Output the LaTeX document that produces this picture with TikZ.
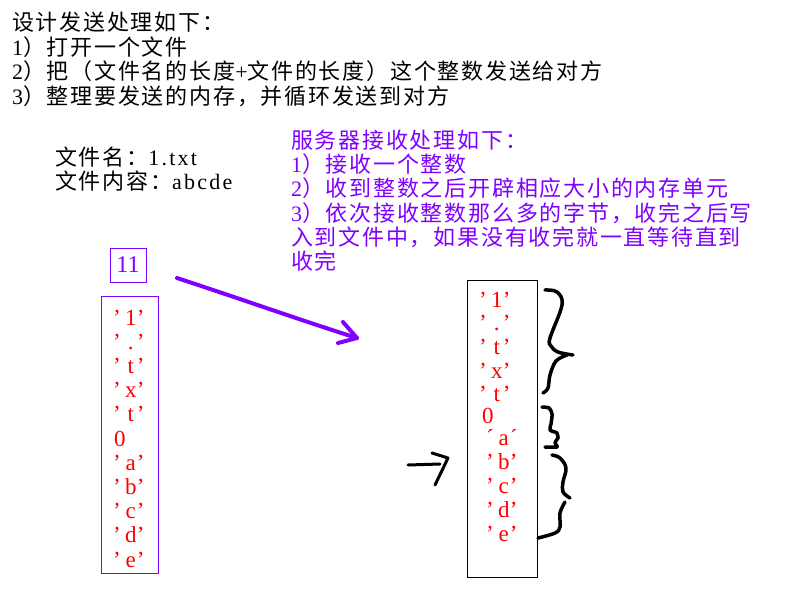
\documentclass[tikz,border=0pt]{standalone}
\usepackage{fontspec}
\setmainfont{Liberation Serif}
\newfontfamily\cjk[LetterSpace=8]{Noto Sans CJK SC}
\newfontfamily\halfw[LetterSpace=10]{Liberation Serif}
\usetikzlibrary{arrows.meta}

\definecolor{violetline}{RGB}{128,0,255}
\definecolor{bytered}{RGB}{255,0,0}

% one byte of the buffer, shown as 'c'
\newcommand\quoted[1]{’\hspace{4pt}\makebox[12pt]{#1}’}
\newcommand\dg[1]{{\halfw #1}}

\tikzset{
  cjkline/.style={font=\cjk\fontsize{22}{24}\selectfont, anchor=base west, inner sep=0pt},
  byte/.style={font=\fontsize{23}{25}\selectfont, text=bytered, anchor=base west, inner sep=0pt},
  handline/.style={line width=3.5pt, line cap=round, line join=round},
}

\begin{document}
\begin{tikzpicture}[x=1pt, y=-1pt]
  \useasboundingbox (0,0) rectangle (800,595);

  % Sender steps
  \foreach \i/\row in {
    0/设计发送处理如下：,
    1/\dg{1}）打开一个文件,
    2/\dg{2}）把（文件名的长度\dg{+}文件的长度）这个整数发送给对方,
    3/\dg{3}）整理要发送的内存，并循环发送到对方
  } {
    \node[cjkline] (send\i) at (12, 30.5+24.5*\i) {\row};
  }

  % Receiver steps
  \foreach \i/\row in {
    0/服务器接收处理如下：,
    1/\dg{1}）接收一个整数,
    2/\dg{2}）收到整数之后开辟相应大小的内存单元,
    3/\dg{3}）依次接收整数那么多的字节，收完之后写,
    4/入到文件中，如果没有收完就一直等待直到,
    5/收完
  } {
    \node[cjkline, text=violetline] (recv\i) at (291, 148.5+24.2*\i) {\row};
  }

  % File
  \node[cjkline] (fname) at (55, 165) {文件名：\dg{1.txt}};
  \node[cjkline] (fbody) at (55, 189) {文件内容：\dg{abcde}};

  % Length and send buffer
  \node[draw=violetline, line width=1pt, text=violetline, font=\fontsize{24}{26}\selectfont,
        minimum width=36pt, minimum height=34pt, inner sep=0pt] (len) at (128, 265) {11};
  \node[draw=violetline, line width=1pt, minimum width=57pt, minimum height=277pt] (sendbuf) at (129.5, 434.5) {};
  \foreach \i/\c in {0/1, 1/., 2/t, 3/x, 4/t, 6/a, 7/b, 8/c, 9/d, 10/e}
    \node[byte] (sb\i) at (113, 325+24.2*\i) {\quoted{\c}};
  \node[byte] (sb5) at (114, 446) {0};

  % Receive buffer
  \node[draw, line width=1pt, minimum width=70pt, minimum height=297pt] (recvbuf) at (502, 428.5) {};
  \foreach \i/\c in {0/1, 1/., 2/t, 3/x, 4/t}
    \node[byte] (rb\i) at (479, 307+23.7*\i) {\quoted{\c}};
  \node[byte] (rb5) at (482, 423) {0};
  \node[byte] (rb6) at (486, 445) {´\hspace{4pt}\makebox[12pt]{a}´};
  \foreach \i/\c in {7/b, 8/c, 9/d, 10/e}
    \node[byte] (rb\i) at (486, 445+24.2*\i-145.2) {\quoted{\c}};

  % Hand drawn arrows
  \coordinate (sendfrom) at (177, 278);
  \coordinate (sendto) at (357, 338);
  \draw[handline, violetline, line width=4pt] (sendfrom) .. controls (250, 302) and (300, 320) .. (sendto);
  \draw[handline, violetline, line width=4pt] (343, 322) -- (sendto) -- (338, 343);

  \coordinate (markfrom) at (408, 465);
  \coordinate (marktip) at (448, 458);
  \draw[handline, line width=3pt] (markfrom) -- (440, 464);
  \draw[handline, line width=3pt] (432, 453) -- (marktip) -- (435, 485);

  % Braces
  \draw[handline] plot[smooth, tension=0.6] coordinates {(545,290) (557,292) (562,305) (550,338) (551,346) (558,352) (573,355)};
  \draw[handline] plot[smooth, tension=0.6] coordinates {(567,355) (556,361) (550,375) (548,388) (543,393)};

  \draw[handline] plot[smooth, tension=0.5] coordinates {(542,407) (549,408) (552,414) (551,424) (550,430) (557,433) (558,438)};
  \draw[handline] plot[smooth, tension=0.5] coordinates {(558,438) (555,443) (557,447) (545,447)};

  \draw[handline] plot[smooth, tension=0.6] coordinates {(552,455) (560,458) (566,468) (563,482) (563,492) (570,498)};
  \draw[handline] plot[smooth, tension=0.6] coordinates {(565,502) (560,513) (560,527) (555,533) (538,538)};
\end{tikzpicture}
\end{document}
